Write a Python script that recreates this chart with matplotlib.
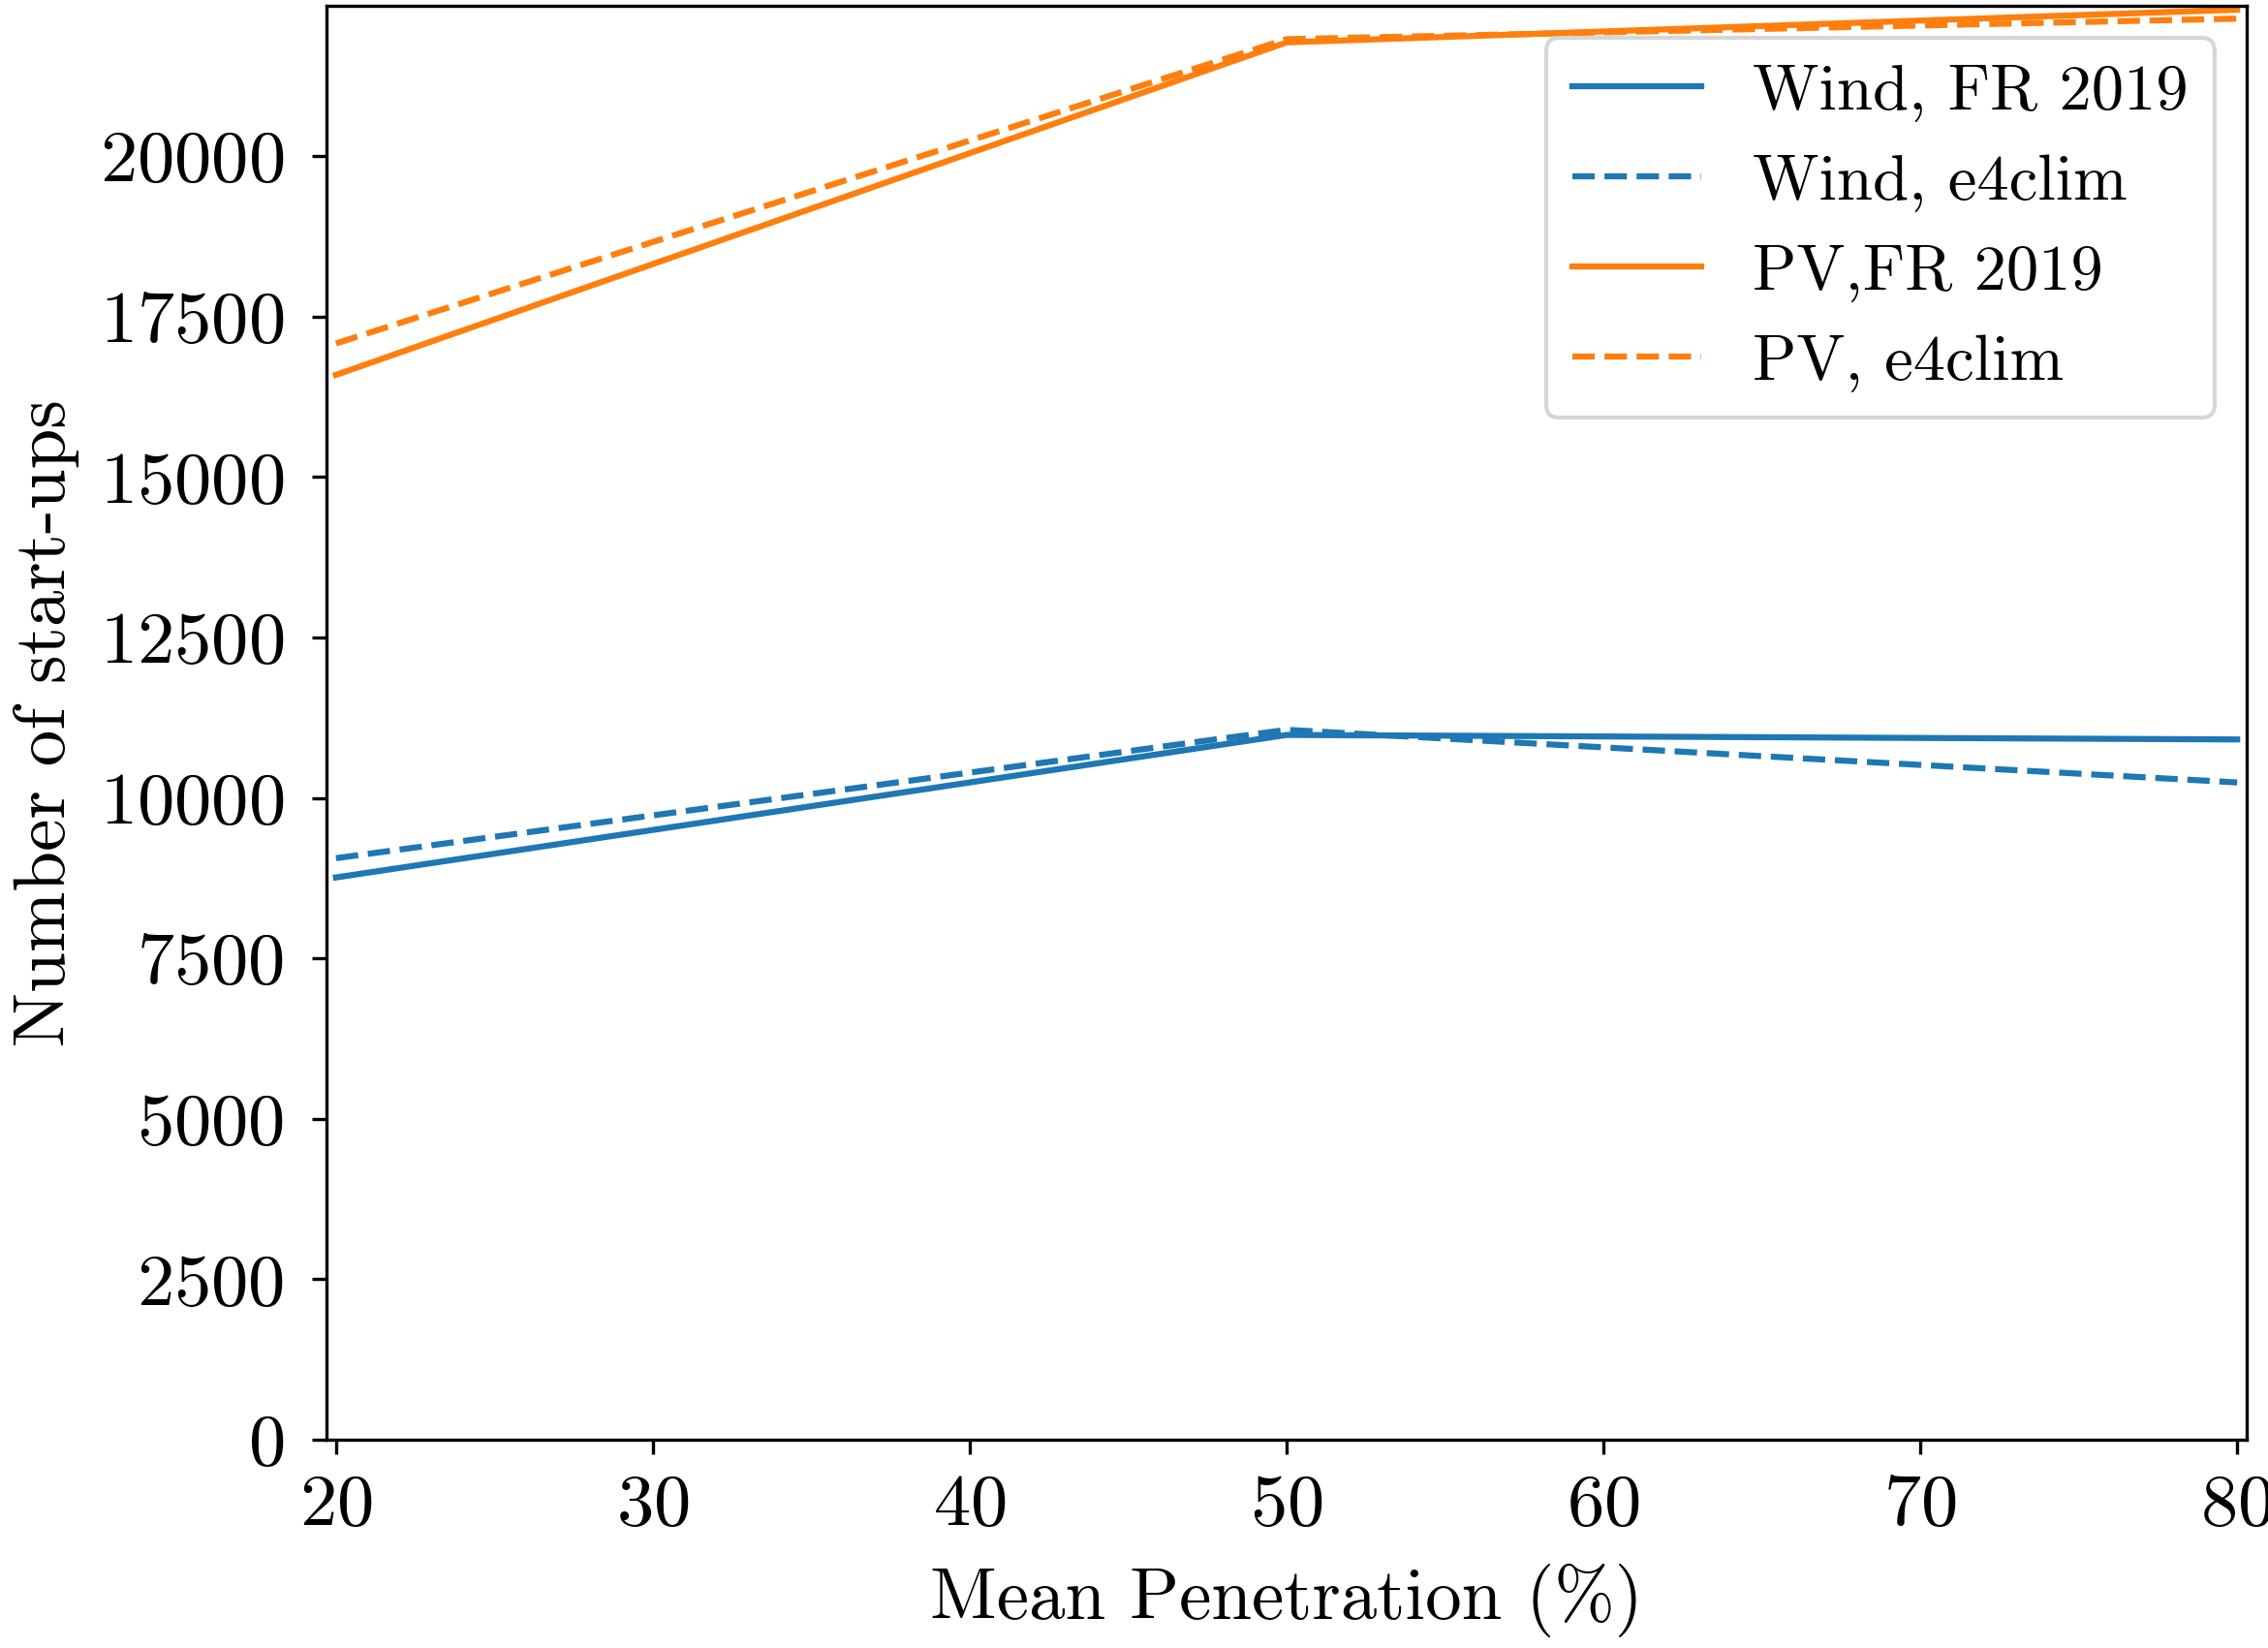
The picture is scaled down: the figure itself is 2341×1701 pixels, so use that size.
import matplotlib
matplotlib.use("Agg")
import matplotlib.pyplot as plt

# Data
penetration = [20, 50, 80]
wind_fr2019 = [8760, 10980, 10910]
wind_e4clim = [9060, 11060, 10240]
pv_fr2019 = [16590, 21770, 22280]
pv_e4clim = [17080, 21820, 22140]

plt.rcParams['font.family'] = ['cmr10', 'DejaVu Serif']
plt.rcParams['mathtext.fontset'] = 'cm'
plt.rcParams['axes.formatter.use_mathtext'] = True
plt.rcParams['font.size'] = 18

fig = plt.figure(figsize=(2341/300, 1701/300), dpi=300)
ax = fig.add_axes([337/2341, 1 - 1486/1701, (2319-337)/2341, (1486-6)/1701])

ax.plot(penetration, wind_fr2019, color='#1f77b4', linestyle='-', label='Wind, FR 2019')
ax.plot(penetration, wind_e4clim, color='#1f77b4', linestyle='--', label='Wind, e4clim')
ax.plot(penetration, pv_fr2019, color='#ff7f0e', linestyle='-', label='PV,FR 2019')
ax.plot(penetration, pv_e4clim, color='#ff7f0e', linestyle='--', label='PV, e4clim')

ax.set_xlim(19.7, 80.3)
ax.set_ylim(0, 22340)
ax.set_xticks([20, 30, 40, 50, 60, 70, 80])
ax.set_yticks([0, 2500, 5000, 7500, 10000, 12500, 15000, 17500, 20000])
ax.tick_params(axis='y', labelsize=18.4, pad=7)
ax.tick_params(axis='x', labelsize=18.4, pad=5)
ax.set_xlabel('Mean Penetration (%)', labelpad=6)
ax.set_ylabel('Number of start-ups', labelpad=5)
ax.legend(loc='upper right', fontsize=16)

fig.savefig('out.png', dpi=300)
